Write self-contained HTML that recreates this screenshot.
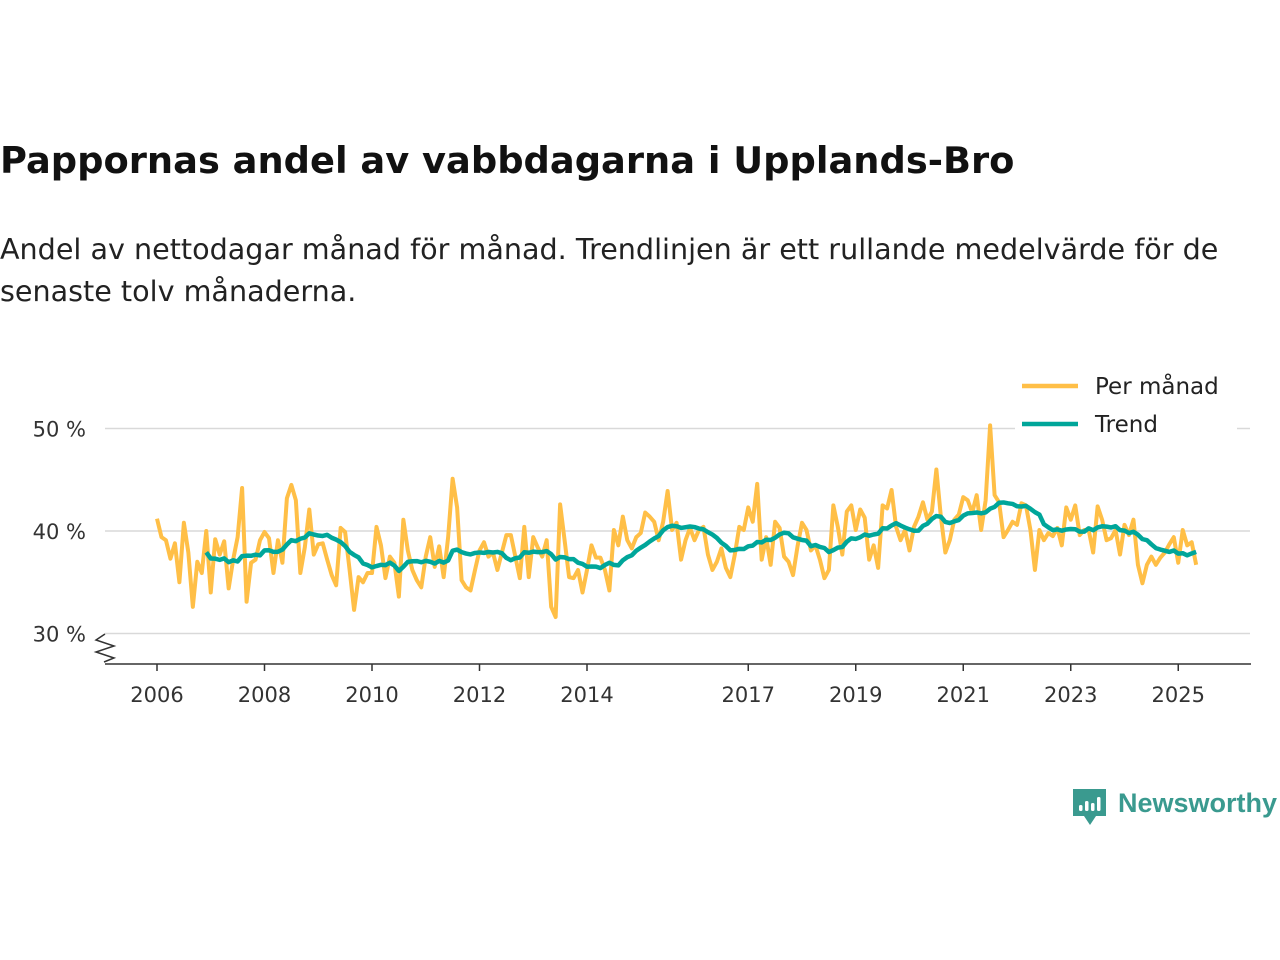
<!DOCTYPE html>
<html><head><meta charset="utf-8">
<style>
body{margin:0;background:#fff;width:1280px;height:960px;overflow:hidden;font-family:"Liberation Sans",sans-serif;color:#111}
#title{position:absolute;left:0;top:139px;font-family:"DejaVu Sans",sans-serif;font-size:36.8px;font-weight:bold;margin:0;white-space:nowrap;color:#111}
#sub{position:absolute;left:0;top:228px;font-family:"DejaVu Sans",sans-serif;font-size:28.6px;line-height:42px;white-space:nowrap;color:#222}
svg{position:absolute;left:0;top:0}
</style></head><body>
<h1 id="title">Pappornas andel av vabbdagarna i Upplands-Bro</h1>
<div id="sub">Andel av nettodagar månad för månad. Trendlinjen är ett rullande medelvärde för de<br>senaste tolv månaderna.</div>
<svg id="chart" width="1280" height="960"></svg>
<script>
const startYear = 2006;
const monthly = [41.2,39.4,39.1,37.3,38.8,35.0,40.8,37.9,32.6,37.0,35.9,40.0,34.0,39.2,37.7,39.0,34.4,37.2,39.4,44.2,33.1,36.9,37.2,39.1,39.9,39.3,35.9,39.1,36.9,43.2,44.5,43.0,35.9,38.4,42.1,37.7,38.7,38.8,37.2,35.7,34.7,40.3,39.9,36.2,32.3,35.5,35.0,35.9,35.9,40.4,
38.6,35.4,37.5,36.9,33.6,41.1,38.1,36.2,35.2,34.5,37.5,39.4,36.5,38.5,35.5,39.4,45.1,42.3,35.2,34.5,34.2,36.2,38.1,38.9,37.5,37.9,36.2,37.9,39.6,39.6,37.5,35.4,40.4,35.5,39.4,38.4,37.5,39.1,32.6,31.6,42.6,39.1,35.5,35.4,36.2,34.0,36.2,38.6,37.4,
37.4,36.2,34.2,40.1,38.6,41.4,39.1,38.3,39.4,39.8,41.8,41.4,40.9,39.1,40.9,43.9,40.1,40.8,37.2,39.1,40.3,39.1,40.1,40.4,37.7,36.2,37.0,38.3,36.4,35.5,37.7,40.4,40.1,42.3,40.9,44.6,37.2,39.4,36.7,40.9,40.3,37.5,37.0,35.7,38.5,40.8,40.1,38.1,38.6,
37.2,35.4,36.2,42.5,40.4,37.7,41.9,42.5,40.1,42.1,41.3,37.2,38.6,36.4,42.5,42.2,44.0,40.4,39.1,40.1,38.1,40.4,41.4,42.8,41.1,41.9,46.0,41.4,37.9,39.1,41.1,41.6,43.3,43.0,41.8,43.5,40.1,43.0,50.3,43.5,42.8,39.4,40.1,40.9,40.6,42.7,42.5,40.1,36.2,40.1,
39.1,39.8,39.5,40.3,38.6,42.3,41.1,42.5,39.6,40.1,40.1,37.9,42.4,41.1,39.1,39.3,40.1,37.7,40.6,39.6,41.1,36.7,34.9,36.7,37.5,36.7,37.4,37.9,38.7,39.4,36.9,40.1,38.6,38.9,36.7];
const yTicks = [30,40,50];
const yTickLabels = ["30 %","40 %","50 %"];
const xTicks = [2006,2008,2010,2012,2014,2017,2019,2021,2023,2025];

const NS="http://www.w3.org/2000/svg";
const svg=document.getElementById('chart');
const x0=157, pxYear=53.75;
function xs(i){return x0+i*pxYear/12;}
function xy(year){return x0+(year-startYear)*pxYear;}
function ys(v){return 531-(v-40)*10.25;}
function mk(tag,attrs){const e=document.createElementNS(NS,tag);for(const k in attrs)e.setAttribute(k,attrs[k]);svg.appendChild(e);return e;}

yTicks.forEach((t,k)=>{
  const g=mk('line',{x1:105,x2:1250,y1:ys(t),y2:ys(t),stroke:'#d9d9d9','stroke-width':1.5});
  
  
  const tx=mk('text',{x:86,y:ys(t)+8,'text-anchor':'end','font-size':21,fill:'#333','font-family':'DejaVu Sans, sans-serif'});
  tx.textContent=yTickLabels[k];
  
  
});
const ax=mk('line',{x1:105,x2:1251,y1:664,y2:664,stroke:'#333','stroke-width':1.5});


const br=mk('path',{d:'M105,634 L96,640 L114,646 L96,652 L114,658 L104,662',fill:'none',stroke:'#333','stroke-width':1.5});


xTicks.forEach(yr=>{
  const t=mk('line',{x1:xy(yr),x2:xy(yr),y1:664,y2:671,stroke:'#333','stroke-width':1.5});
  
  
  const tx=mk('text',{x:xy(yr),y:702,'text-anchor':'middle','font-size':21,fill:'#333','font-family':'DejaVu Sans, sans-serif'});
  tx.textContent=yr;
  
  
});
const mp=mk('polyline',{points:monthly.map((v,i)=>xs(i)+','+ys(v)).join(' '),fill:'none',stroke:'#ffbf47','stroke-width':4,'stroke-linejoin':'round'});


const trendPts=[];
for(let i=11;i<monthly.length;i++){let s=0;for(let j=i-11;j<=i;j++)s+=monthly[j];trendPts.push(xs(i)+','+ys(s/12));}
const tp=mk('polyline',{points:trendPts.join(' '),fill:'none',stroke:'#00a69a','stroke-width':4.5,'stroke-linejoin':'round'});


// legend
const lb=mk('rect',{x:1015,y:365,width:222,height:80,fill:'#fff'});


[['Per månad','#ffbf47',386],['Trend','#00a69a',424]].forEach(([lab,c,y])=>{
  const l=mk('line',{x1:1022,x2:1078,y1:y,y2:y,stroke:c,'stroke-width':4.5});
  
  
  const t=mk('text',{x:1095,y:y+8,'font-size':23,fill:'#222','font-family':'DejaVu Sans, sans-serif'});
  t.textContent=lab;
  
  
});
// logo
const lg=mk('path',{d:'M1073,789 h33 v27 h-10 l-6,9 l-6,-9 h-11 z',fill:'#3a9a8f'});


[[1079,805,6],[1085,801,10],[1091,803,8],[1097,797,14]].forEach(([x,y,h])=>{
  const b=mk('rect',{x:x,y:y,width:3.5,height:h,fill:'#fff',rx:1.5});
  
  
});
const lt=mk('text',{x:1118,y:812,'font-size':27,'font-weight':'bold',fill:'#3a9a8f'});
lt.textContent='Newsworthy';


</script>
</body></html>
